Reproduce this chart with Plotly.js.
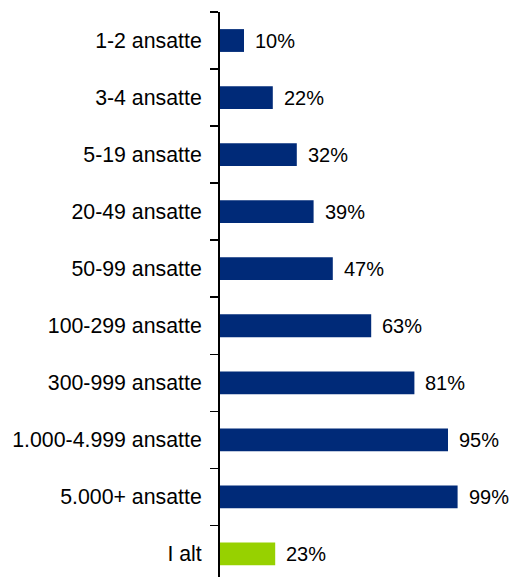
<!DOCTYPE html>
<html>
<head>
<meta charset="utf-8">
<script src="https://cdn.plot.ly/plotly-3.0.1.min.js"></script>
<style>html,body{margin:0;padding:0;background:#fff;overflow:hidden}</style>
</head>
<body>
<div id="chart" style="width:512px;height:577px"></div>
<script>
const categories = ["1-2 ansatte","3-4 ansatte","5-19 ansatte","20-49 ansatte","50-99 ansatte","100-299 ansatte","300-999 ansatte","1.000-4.999 ansatte","5.000+ ansatte","I alt"];
const values = [10,22,32,39,47,63,81,95,99,23];
const barColors = ["#002A78","#002A78","#002A78","#002A78","#002A78","#002A78","#002A78","#002A78","#002A78","#97D100"];
const valueLabels = values.map(v => v + "%");

const font = "Arial, 'Liberation Sans', sans-serif";

const trace = {
  type: "bar",
  orientation: "h",
  x: values,
  y: categories,
  width: 0.4,
  marker: {color: barColors, line: {width: 0}},
  hoverinfo: "skip"
};

const annotations = values.map((v, i) => ({
  x: v, y: categories[i], xref: "x", yref: "y",
  text: valueLabels[i], showarrow: false,
  xanchor: "left", yanchor: "middle", xshift: 9,
  font: {family: font, size: 20, color: "#000"}
}));

const layout = {
  width: 512, height: 577,
  margin: {l: 220, r: 4, t: 12, b: 0, pad: 0},
  paper_bgcolor: "#fff", plot_bgcolor: "#fff",
  showlegend: false,
  xaxis: {range: [0, 120], visible: false, fixedrange: true},
  yaxis: {
    type: "category",
    categoryorder: "array", categoryarray: categories,
    range: [9.404, -0.5],
    showline: true, linecolor: "#000", linewidth: 2,
    ticks: "outside", ticklen: 8, tickwidth: 1.5, tickcolor: "#000",
    tickson: "boundaries",
    showgrid: false, zeroline: false,
    tickfont: {family: font, size: 21.3, color: "#000"},
    ticklabelstandoff: 12,
    fixedrange: true
  },
  annotations: annotations,
  bargap: 0.6
};

Plotly.newPlot("chart", [trace], layout, {displayModeBar: false, staticPlot: true});
</script>
</body>
</html>
